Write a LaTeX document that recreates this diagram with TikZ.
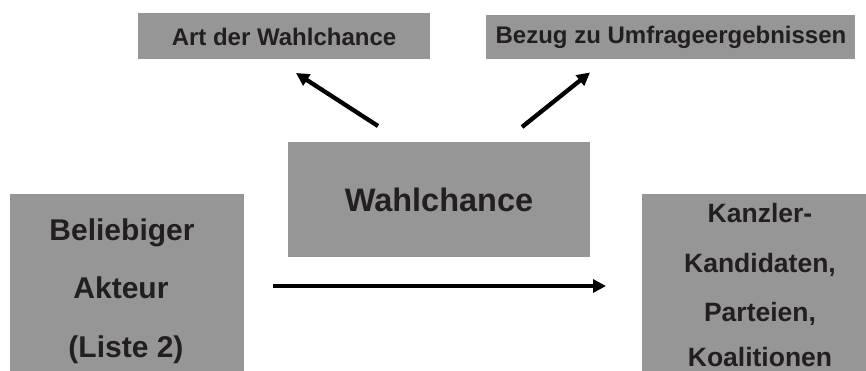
\documentclass[tikz,border=0pt]{standalone}
\usepackage{fontspec}
\setmainfont{Liberation Sans}
\usetikzlibrary{arrows.meta}
\definecolor{boxgray}{HTML}{969696}
\definecolor{ink}{HTML}{231F20}
\tikzset{
  graybox/.style={fill=boxgray, draw=none, inner sep=0pt, anchor=north west},
  smalltext/.style={font=\bfseries\fontsize{24}{28}\selectfont, text=ink, inner sep=0pt},
  bigtext/.style={font=\bfseries\fontsize{32.5}{38}\selectfont, text=ink, inner sep=0pt},
  lefttext/.style={font=\bfseries\fontsize{30}{35}\selectfont, text=ink, inner sep=0pt, anchor=base},
  righttext/.style={font=\bfseries\fontsize{26.5}{31}\selectfont, text=ink, inner sep=0pt, anchor=base},
  conn/.style={line width=4.3pt, draw=black, -{Triangle[length=13pt,width=13pt]}}
}
\begin{document}
\begin{tikzpicture}[x=1pt,y=-1pt]
\useasboundingbox (0,0) rectangle (866,370);
% top boxes
\node[graybox, minimum width=292pt, minimum height=46pt] (art) at (138,13) {};
\node[smalltext] (artt) at (284,37) {Art der Wahlchance};
\node[graybox, minimum width=369pt, minimum height=44pt] (bez) at (486,15) {};
\node[smalltext] (bezt) at (671,37.5) {Bezug zu Umfrageergebnissen};
% middle box
\node[graybox, minimum width=302pt, minimum height=115pt] (wahl) at (288,142) {};
\node[bigtext] (wahlt) at (439,200) {Wahlchance};
% left box
\node[graybox, minimum width=234pt, minimum height=190pt] (left) at (10,194) {};
\node[lefttext] (l1) at (122,240) {Beliebiger};
\node[lefttext] (l2) at (121,298.5) {Akteur};
\node[lefttext] (l3) at (126,357) {(Liste 2)};
% right box
\node[graybox, minimum width=240pt, minimum height=190pt] (right) at (642,194) {};
\node[righttext] (r1) at (760,222.5) {Kanzler-};
\node[righttext] (r2) at (760,272) {Kandidaten,};
\node[righttext] (r3) at (760,321) {Parteien,};
\node[righttext] (r4) at (760,366.5) {Koalitionen};
% arrows
\coordinate (a1s) at (378,126);
\coordinate (a1e) at (296,73);
\coordinate (a2s) at (522,127);
\coordinate (a2e) at (590,72.5);
\coordinate (a3s) at (273,286);
\coordinate (a3e) at (606,286);
\draw[conn] (a1s) -- (a1e);
\draw[conn] (a2s) -- (a2e);
\draw[conn] (a3s) -- (a3e);
\end{tikzpicture}
\end{document}
